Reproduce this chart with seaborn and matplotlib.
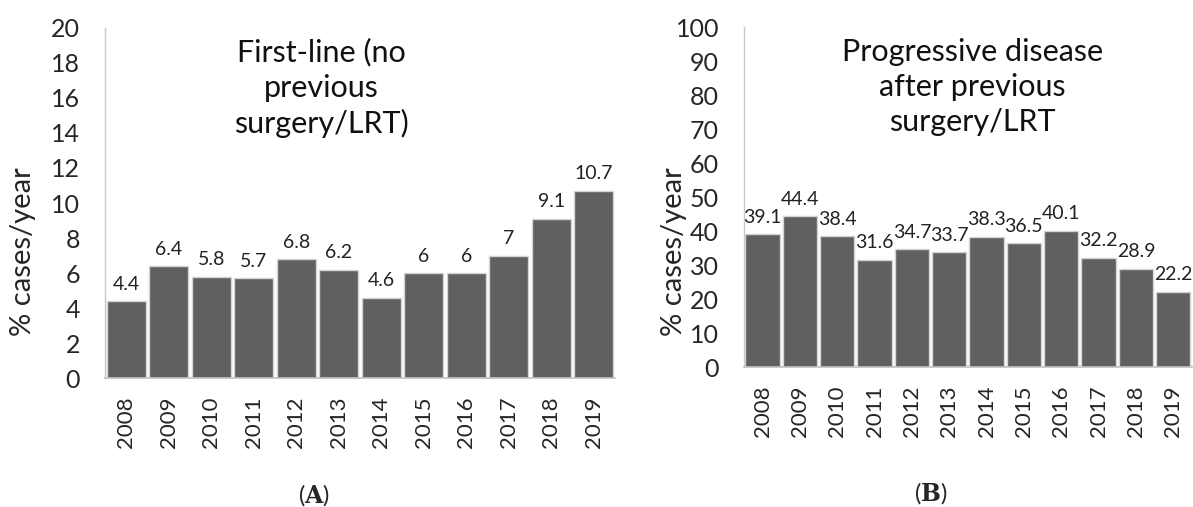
import matplotlib
matplotlib.use("Agg")
import matplotlib.pyplot as plt
import seaborn as sns
import pandas as pd

years = ["2008", "2009", "2010", "2011", "2012", "2013", "2014", "2015", "2016", "2017", "2018", "2019"]
first_line = [4.4, 6.4, 5.8, 5.7, 6.8, 6.2, 4.6, 6, 6, 7, 9.1, 10.7]
progressive = [39.1, 44.4, 38.4, 31.6, 34.7, 33.7, 38.3, 36.5, 40.1, 32.2, 28.9, 22.2]
first_labels = ["4.4", "6.4", "5.8", "5.7", "6.8", "6.2", "4.6", "6", "6", "7", "9.1", "10.7"]
prog_labels = ["39.1", "44.4", "38.4", "31.6", "34.7", "33.7", "38.3", "36.5", "40.1", "32.2", "28.9", "22.2"]
title_a = "First-line (no\nprevious\nsurgery/LRT)"
title_b = "Progressive disease\nafter previous\nsurgery/LRT"
ylabel = "% cases/year"

sns.set_style("white")
plt.rcParams['font.family'] = ['Lato', 'DejaVu Sans']
plt.rcParams['mathtext.fontset'] = 'dejavuserif'

fig = plt.figure(figsize=(11.93, 5.07), dpi=100)
ax1 = fig.add_axes([0.088, 0.2544, 0.4275, 0.6904])
ax2 = fig.add_axes([0.6236, 0.2761, 0.3755, 0.6706])

bar_color = "#606060"

def draw(ax, vals, labels, ymax, step, lab_x, lab_y):
    df = pd.DataFrame({"year": years, "value": vals})
    sns.barplot(data=df, x="year", y="value", ax=ax, color=bar_color, saturation=1,
                width=0.92, edgecolor="#d4d4d4", linewidth=1.0)
    ax.set_ylim(0, ymax)
    ax.set_yticks(range(0, ymax + 1, step))
    ax.set_xlim(-0.5, len(years) - 0.5)
    ax.tick_params(axis="y", labelsize=18, length=0, pad=18)
    ax.tick_params(axis="x", labelsize=16, length=0, rotation=90, pad=13)
    ax.set_xlabel("")
    ax.set_ylabel(ylabel, fontsize=21)
    ax.yaxis.set_label_coords(lab_x, lab_y)
    for s in ["top", "right"]:
        ax.spines[s].set_visible(False)
    ax.spines["left"].set_color("#c8c8c8")
    ax.spines["bottom"].set_color("#c0c0c0")
    ax.spines["left"].set_linewidth(1.0)
    ax.spines["bottom"].set_linewidth(1.2)
    for c in ax.containers:
        ax.bar_label(c, labels=labels, padding=6, fontsize=14, color="#222222")

draw(ax1, first_line, first_labels, 20, 2, -0.135, 0.36)
draw(ax2, progressive, prog_labels, 100, 10, -0.127, 0.34)

fig.text(0.269, 0.925, title_a, ha="center", va="top", fontsize=22,
         color="#111111", linespacing=1.3)
fig.text(0.815, 0.925, title_b, ha="center", va="top", fontsize=22,
         color="#111111", linespacing=1.3)

fig.text(0.263, 0.024, r"($\mathbf{A}$)", ha="center", va="center", fontsize=17)
fig.text(0.780, 0.028, r"($\mathbf{B}$)", ha="center", va="center", fontsize=17)

fig.savefig("out.png", dpi=100)
